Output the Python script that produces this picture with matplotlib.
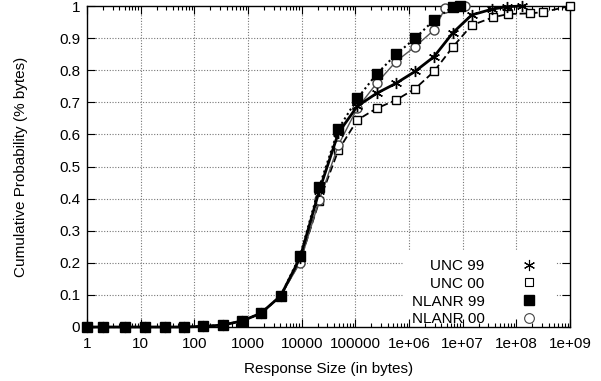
import matplotlib
matplotlib.use("Agg")
import matplotlib.pyplot as plt
from matplotlib.ticker import LogLocator, FixedLocator, FixedFormatter, NullFormatter
from matplotlib.lines import Line2D

plt.rcParams['font.family'] = ['Liberation Sans', 'DejaVu Sans']

# Common bin positions (bytes)
x_common = [1, 2, 5, 12, 28, 65, 147, 337, 782, 1746, 4064, 9310, 21300,
            48400, 109000, 249000, 571000, 1.29e6, 2.92e6, 6.6e6]

low = [0, 0, 0, 0, 0, 0, 0.002, 0.006, 0.019, 0.043, 0.097]

unc99_x = x_common + [1.47e7, 3.5e7, 6.8e7, 1.3e8]
unc99_y = low + [0.215, 0.425, 0.605, 0.688, 0.728, 0.759, 0.796, 0.842, 0.917,
                 0.972, 0.99, 0.998, 1.0]

unc00_x = x_common + [1.47e7, 3.7e7, 7.1e7, 1.8e8, 3.2e8, 1e9]
unc00_y = low + [0.205, 0.392, 0.551, 0.645, 0.681, 0.707, 0.742, 0.796, 0.873,
                 0.94, 0.965, 0.975, 0.977, 0.981, 1.0]

nlanr99_x = x_common + [9e6]
nlanr99_y = low + [0.222, 0.437, 0.617, 0.712, 0.788, 0.849, 0.899, 0.956, 0.998,
                   1.0]

nlanr00_x = x_common[:-1] + [4.7e6, 1.1e7]
nlanr00_y = low + [0.20, 0.395, 0.567, 0.682, 0.759, 0.827, 0.873, 0.925, 0.993,
                   1.0]

xticks = [1, 10, 100, 1000, 10000, 100000, 1e6, 1e7, 1e8, 1e9]
xticklabels = ['1', '10', '100', '1000', '10000', '100000', '1e+06', '1e+07',
               '1e+08', '1e+09']
yticks = [0, 0.1, 0.2, 0.3, 0.4, 0.5, 0.6, 0.7, 0.8, 0.9, 1]
yticklabels = ['0', '0.1', '0.2', '0.3', '0.4', '0.5', '0.6', '0.7', '0.8', '0.9', '1']

fig = plt.figure(figsize=(6.01, 3.81), dpi=100)
ax = fig.add_axes([87/601, 54/381, (570-87)/601, (327-6)/381])

# grid drawn manually so the legend box can hide it while ticks stay on top
grid_kw = dict(color='#777777', ls=(0, (1, 1.5)), lw=0.8, zorder=0.5)
for xt in xticks[1:-1]:
    ax.axvline(xt, **grid_kw)
for yt in yticks[1:-1]:
    ax.axhline(yt, **grid_kw)

ms = 6
ax.plot(unc00_x, unc00_y, color='black', lw=1.3, ls=(0, (4, 2)),
        marker='s', ms=ms, mfc='white', mec='black', mew=1.0,
        label='UNC 00', zorder=3, clip_on=False)
ax.plot(nlanr00_x, nlanr00_y, color='#555555', lw=1.0, ls='-',
        marker='o', ms=ms+0.5, mfc='white', mec='#444444', mew=1.0,
        label='NLANR 00', zorder=4, clip_on=False)
ax.plot(unc99_x, unc99_y, color='black', lw=2.0, ls='-',
        marker=(6, 2, 0), ms=ms+2, mec='black', mew=1.0,
        label='UNC 99', zorder=5, clip_on=False)
ax.plot(nlanr99_x, nlanr99_y, color='black', lw=1.5, ls=(0, (1, 1.5)),
        marker='s', ms=ms+0.5, mfc='black', mec='black', label='NLANR 99',
        zorder=6, clip_on=False)

ax.set_xscale('log')
ax.set_xlim(1, 1e9)
ax.set_ylim(0, 1)
ax.xaxis.set_major_locator(FixedLocator(xticks))
ax.xaxis.set_major_formatter(FixedFormatter(xticklabels))
ax.xaxis.set_minor_locator(LogLocator(base=10, subs=range(2, 10), numticks=20))
ax.xaxis.set_minor_formatter(NullFormatter())
ax.yaxis.set_major_locator(FixedLocator(yticks))
ax.yaxis.set_major_formatter(FixedFormatter(yticklabels))

ax.tick_params(which='both', direction='in', top=True, right=True,
               labelsize=11)
ax.tick_params(axis='x', which='major', pad=7)
ax.tick_params(axis='y', which='major', pad=5)
ax.tick_params(which='major', length=6, width=0.8)
ax.tick_params(which='minor', length=3, width=0.8)
ax.xaxis.set_zorder(2)
ax.yaxis.set_zorder(2)
for s in ax.spines.values():
    s.set_linewidth(1.0)
    s.set_zorder(2.5)

ax.set_xlabel('Response Size (in bytes)', fontsize=11, labelpad=8)
ax.set_ylabel('Cumulative Probability (% bytes)', fontsize=11, labelpad=22)

# legend: markers only, text first (right-aligned by markerfirst=False)
handles = [
    Line2D([], [], ls='none', marker=(6, 2, 0), ms=8, mec='black', mew=0.8),
    Line2D([], [], ls='none', marker='s', ms=6, mfc='white', mec='black', mew=0.8),
    Line2D([], [], ls='none', marker='s', ms=7, mfc='black', mec='black'),
    Line2D([], [], ls='none', marker='o', ms=7, mfc='white', mec='#444444', mew=0.8),
]
labels = ['UNC 99', 'UNC 00', 'NLANR 99', 'NLANR 00']
leg = ax.legend(handles, labels, loc='lower right', markerfirst=False,
                frameon=True, fancybox=False, facecolor='white',
                edgecolor='none', framealpha=1.0, fontsize=11,
                handlelength=2.5, handletextpad=1.65, labelspacing=0.25,
                borderaxespad=0.3, borderpad=0.5,
                bbox_to_anchor=(0.98, -0.036))
leg.set_zorder(1)

fig.savefig('out.png', dpi=100)
